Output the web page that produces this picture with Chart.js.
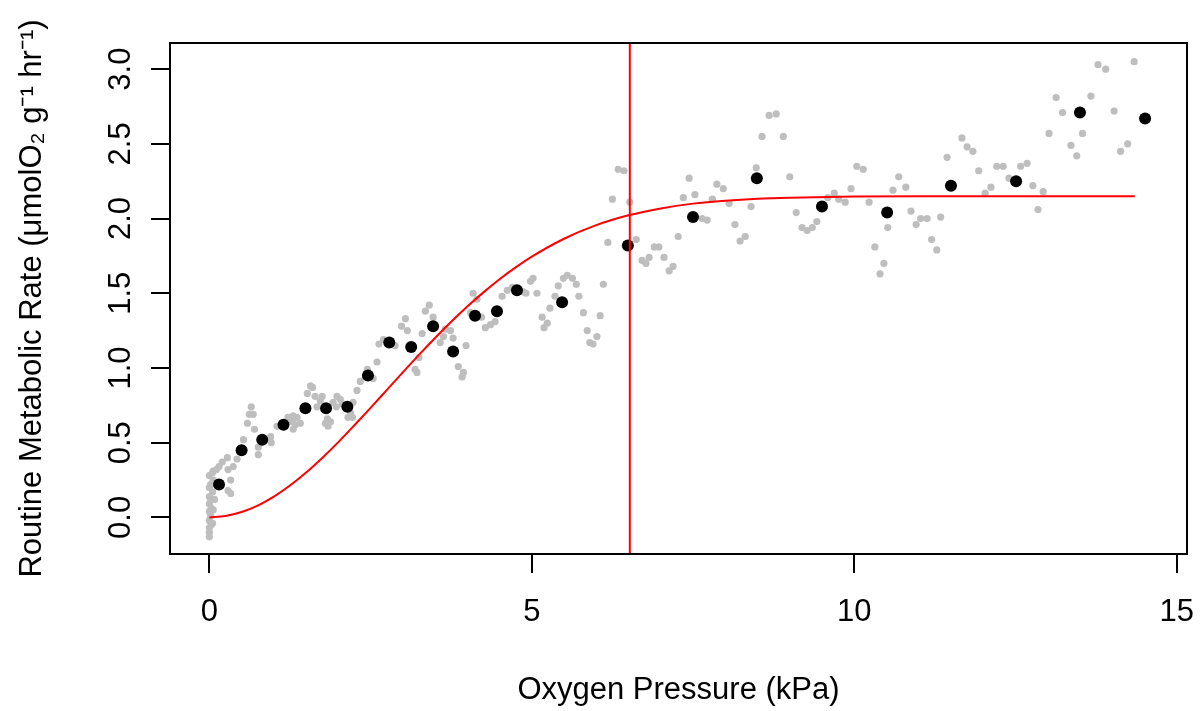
<!DOCTYPE html>
<html>
<head>
<meta charset="utf-8">
<script src="https://cdn.jsdelivr.net/npm/chart.js@4/dist/chart.umd.min.js"></script>
<style>
  html, body { margin: 0; padding: 0; background: #fff; }
  #wrap { width: 1202px; height: 711px; }
</style>
</head>
<body>
<div id="wrap"><canvas id="c" width="1202" height="711"></canvas></div>
<script>
// Raw MO2 readings (grey), binned means (black), fitted curve (red), breakpoint.
const greyX = [
  0.00,0.00,0.00,0.05,0.00,0.02,0.00,0.03,0.00,0.02,0.00,0.05,0.00,0.02,0.06,0.00,0.06,0.11,0.15,0.20,
  0.28,0.43,0.37,0.29,0.05,0.33,0.29,0.33,0.08,0.03,0.06,
  0.65,0.62,0.68,0.59,0.70,0.53,0.95,0.96,0.76,0.76,1.05,1.22,
  3.04,2.98,3.07,3.35,3.30,2.63,2.70,2.88,3.25,3.19,3.22,2.60,2.45,2.42,2.54,2.34,2.29,1.57,1.60,1.52,
  1.64,1.75,1.72,1.67,1.98,2.03,1.92,2.06,1.97,2.19,2.22,2.15,2.23,1.83,1.88,1.80,1.84,1.30,1.36,1.29,
  1.33,1.30,1.41,
  3.41,3.47,4.09,4.15,4.05,4.22,4.28,4.36,4.43,3.66,3.74,3.63,3.58,3.78,3.98,3.86,3.94,3.92,4.54,4.62,
  4.70,4.87,4.91,4.98,5.02,5.08,
  6.34,6.43,6.25,6.52,6.18,6.62,6.71,6.77,6.82,5.49,5.55,5.63,5.41,5.69,5.36,5.73,6.11,5.28,5.80,6.06,
  5.16,5.24,5.19,5.86,6.01,5.90,5.95,
  8.68,8.79,8.57,8.90,8.48,9.00,7.44,7.87,7.97,7.35,7.53,7.80,8.06,8.40,7.64,7.72,8.15,9.10,9.19,9.27,
  8.31,8.23,7.27,6.90,6.97,7.05,7.19,7.13,
  9.35,9.42,9.59,9.69,9.76,9.86,9.95,10.04,10.14,10.23,10.32,10.46,10.40,10.52,10.60,10.69,10.80,10.88,
  10.96,11.03,11.13,11.34,11.20,11.28,11.44,
  11.67,11.75,11.84,11.93,12.21,12.31,12.58,12.68,12.40,12.12,12.03,12.77,12.93,12.85,13.02,13.13,13.23,
  13.36,13.45,13.54,13.67,13.78,13.90,14.03,14.24,14.13,14.34
];
const greyY = [
  -0.13,-0.10,-0.07,-0.04,-0.02,0.01,0.04,0.06,0.09,0.12,0.14,0.17,0.20,0.22,0.25,0.28,0.31,0.32,0.34,0.37,
  0.40,0.39,0.34,0.32,0.30,0.25,0.18,0.16,0.12,-0.05,0.05,
  0.74,0.69,0.69,0.63,0.59,0.52,0.54,0.50,0.47,0.42,0.61,0.67,
  1.33,1.28,1.25,1.38,1.23,1.16,1.19,1.15,1.07,0.99,0.97,1.04,0.99,0.94,0.93,0.91,0.85,0.88,0.87,0.83,
  0.81,0.81,0.78,0.74,0.81,0.79,0.77,0.76,0.74,0.70,0.67,0.67,0.77,0.66,0.64,0.63,0.61,0.68,0.67,0.64,
  0.62,0.59,0.63,
  1.42,1.34,1.50,1.46,1.37,1.34,1.27,1.29,1.31,1.26,1.25,1.21,1.17,1.20,1.15,1.01,0.97,0.94,1.48,1.52,
  1.54,1.51,1.50,1.58,1.60,1.50,
  2.33,2.32,2.13,2.11,1.84,1.86,1.72,1.70,1.74,1.60,1.62,1.60,1.55,1.56,1.48,1.48,1.56,1.40,1.37,1.35,
  1.34,1.30,1.27,1.25,1.21,1.17,1.16,
  2.69,2.70,2.55,2.55,2.34,2.28,2.27,2.23,2.20,2.14,2.16,2.13,2.10,2.08,2.00,1.99,1.96,2.04,1.94,1.92,
  1.88,1.85,1.88,1.81,1.81,1.74,1.68,1.65,
  1.94,1.98,2.14,2.17,2.13,2.11,2.20,2.35,2.33,2.11,1.81,1.70,1.63,1.94,2.19,2.28,2.21,2.05,
  1.96,2.00,2.00,2.01,1.86,1.79,2.41,
  2.54,2.48,2.45,2.32,2.35,2.35,2.35,2.37,2.27,2.21,2.17,2.22,2.18,2.06,2.57,2.81,2.71,
  2.49,2.42,2.57,2.82,3.03,3.00,2.72,2.50,2.45,3.05
];

const meanX = [0.15,0.50,0.82,1.15,1.49,1.81,2.14,2.46,2.79,3.13,3.47,3.78,4.12,4.46,4.77,
               5.47,6.49,7.50,8.49,9.50,10.51,11.50,12.51,13.50,14.51];
const meanY = [0.22,0.45,0.52,0.62,0.73,0.73,0.74,0.95,1.17,1.14,1.28,1.11,1.35,1.38,1.52,
               1.44,1.82,2.01,2.27,2.08,2.04,2.22,2.25,2.71,2.67];

const fitX = [0,0.25,0.5,0.75,1,1.25,1.5,1.75,2,2.25,2.5,2.75,3,3.25,3.5,3.75,4,4.25,4.5,4.75,
              5,5.5,6,6.5,7,7.5,8,8.5,9,10,11,12,13,14.35];
const fitY = [0,0.009,0.036,0.079,0.139,0.213,0.300,0.398,0.504,0.617,0.733,0.852,0.971,1.088,
              1.201,1.309,1.411,1.506,1.594,1.673,1.745,1.865,1.956,2.022,2.068,2.100,2.120,
              2.133,2.140,2.147,2.150,2.150,2.150,2.150];

const breakpoint = 6.52;
const xTicks = [0, 5, 10, 15];
const yTicks = [0, 0.5, 1, 1.5, 2, 2.5, 3];
const X_MIN = -0.61, X_MAX = 15.16;
const Y_MIN = -0.245, Y_MAX = 3.175;

const pts = (xs, ys) => xs.map((x, i) => ({ x, y: ys[i] }));

Chart.defaults.font.family = "'Liberation Sans', Arial, Helvetica, sans-serif";
Chart.defaults.font.size = 31;
Chart.defaults.color = '#000';

// R-style closed box around the plot region
const boxPlugin = {
  id: 'box',
  afterDatasetsDraw(chart) {
    const { ctx, chartArea: a } = chart;
    ctx.save();
    ctx.strokeStyle = '#000';
    ctx.lineWidth = 2;
    ctx.strokeRect(a.left, a.top, a.right - a.left, a.bottom - a.top);
    ctx.restore();
  }
};

const tickGrid = { display: true, drawOnChartArea: false, drawTicks: true,
                   tickLength: 19, color: '#000', lineWidth: 2 };

new Chart(document.getElementById('c'), {
  type: 'scatter',
  data: {
    datasets: [
      { data: pts(greyX, greyY), backgroundColor: '#bebebe', borderWidth: 0,
        pointRadius: 3.6, order: 4 },
      { data: pts(meanX, meanY), backgroundColor: '#000', borderWidth: 0,
        pointRadius: 6, order: 3 },
      { data: pts(fitX, fitY), showLine: true, borderColor: '#ff0000', borderWidth: 2,
        pointRadius: 0, cubicInterpolationMode: 'monotone', order: 2 },
      { data: [{ x: breakpoint, y: Y_MIN }, { x: breakpoint, y: Y_MAX }], showLine: true,
        borderColor: '#ff0000', borderWidth: 2, pointRadius: 0, order: 1 },
    ]
  },
  options: {
    responsive: false, animation: false, devicePixelRatio: 1,
    layout: { padding: { top: 43, right: 15, left: 0, bottom: 0 } },
    plugins: { legend: { display: false }, tooltip: { enabled: false } },
    scales: {
      x: {
        type: 'linear', min: X_MIN, max: X_MAX,
        afterBuildTicks: s => { s.ticks = xTicks.map(v => ({ value: v })); },
        afterFit: s => { s.height = 157; s.paddingLeft = 0; s.paddingRight = 0; },
        grid: tickGrid, border: { display: false },
        ticks: { padding: 21, callback: v => String(v) },
        title: { display: true, text: 'Oxygen Pressure (kPa)', padding: { top: 0, bottom: 2 } },
      },
      y: {
        type: 'linear', min: Y_MIN, max: Y_MAX,
        afterBuildTicks: s => { s.ticks = yTicks.map(v => ({ value: v })); },
        afterFit: s => { s.width = 170; s.paddingTop = 0; s.paddingBottom = 0; },
        grid: tickGrid, border: { display: false },
        ticks: { padding: 8, minRotation: 90, maxRotation: 90, crossAlign: 'center',
                 callback: v => v.toFixed(1) },
        title: { display: true, text: 'Routine Metabolic Rate (μmolO₂ g⁻¹ hr⁻¹)',
                 padding: { top: 14, bottom: 0 } },
      }
    }
  },
  plugins: [boxPlugin]
});
</script>
</body>
</html>
